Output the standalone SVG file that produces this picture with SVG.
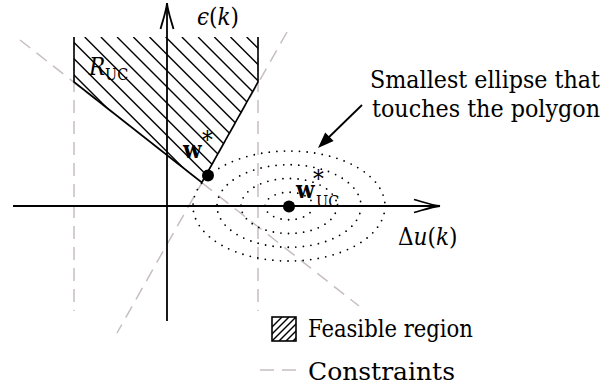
<svg xmlns="http://www.w3.org/2000/svg" width="614" height="385" viewBox="0 0 614 385">
<style>
text{font-family:'DejaVu Serif Condensed','DejaVu Serif',serif;font-stretch:condensed}
.t{font-size:24px;fill:#000}
.i{font-style:italic}
.b{font-weight:bold}
.s{font-size:16px}
.cons{stroke:#c8bebe;stroke-width:1.5;stroke-dasharray:13 8;fill:none}
.ax{stroke:#000;stroke-width:1.8;fill:none}
.hatch{stroke:#000;stroke-width:1.4}
.ell{fill:none;stroke:#000;stroke-width:1.8;stroke-linecap:round;stroke-dasharray:0 7.6}
</style>
<defs>
<clipPath id="polyclip"><polygon points="74,37 258,37 258,82 201.8,182.5 74,82"/></clipPath>
<clipPath id="boxclip"><rect x="272" y="317" width="24" height="24"/></clipPath>
</defs>

<g id="constraints">
<line class="cons" x1="74" y1="37" x2="74" y2="311"/>
<line class="cons" x1="258" y1="37" x2="258" y2="311"/>
<line class="cons" x1="20" y1="40" x2="359" y2="306"/>
<line class="cons" x1="287" y1="32" x2="117" y2="333"/>
</g>

<g id="feasible-region">
<g clip-path="url(#polyclip)" class="hatch">
<line x1="36.1" y1="37" x2="196.1" y2="197"/>
<line x1="52.3" y1="37" x2="212.3" y2="197"/>
<line x1="68.5" y1="37" x2="228.5" y2="197"/>
<line x1="84.7" y1="37" x2="244.7" y2="197"/>
<line x1="100.9" y1="37" x2="260.9" y2="197"/>
<line x1="117.1" y1="37" x2="277.1" y2="197"/>
<line x1="133.3" y1="37" x2="293.3" y2="197"/>
<line x1="149.5" y1="37" x2="309.5" y2="197"/>
<line x1="165.7" y1="37" x2="325.7" y2="197"/>
<line x1="181.9" y1="37" x2="341.9" y2="197"/>
<line x1="198.1" y1="37" x2="358.1" y2="197"/>
<line x1="214.3" y1="37" x2="374.3" y2="197"/>
<line x1="230.5" y1="37" x2="390.5" y2="197"/>
<line x1="246.7" y1="37" x2="406.7" y2="197"/>
</g>
<path d="M74,37 L74,82 L201.8,182.5 L258,82 L258,37" fill="none" stroke="#000" stroke-width="1.6" stroke-linejoin="miter"/>
<text class="t i" x="89" y="75">R<tspan class="s" font-style="normal" x="105" y="80">UC</tspan></text>
</g>

<g id="axes">
<line class="ax" x1="167" y1="321" x2="167" y2="3"/>
<path class="ax" d="M160.5,29 C163,20 166.5,10 167,3 C167.5,10 171,20 173.5,29"/>
<line class="ax" x1="13" y1="206" x2="440" y2="206"/>
<path class="ax" d="M414,199.5 C423,202 433,205.5 440,206 C433,206.5 423,210 414,212.5"/>
<text class="t" x="197" y="25"><tspan class="i">ϵ</tspan>(<tspan class="i">k</tspan>)</text>
<text class="t" x="398" y="245">Δ<tspan class="i">u</tspan>(<tspan class="i">k</tspan>)</text>
</g>

<g id="ellipses">
<ellipse class="ell" cx="289" cy="206" rx="24" ry="13.75"/>
<ellipse class="ell" cx="289" cy="206" rx="48" ry="27.5"/>
<ellipse class="ell" cx="289" cy="206" rx="72" ry="41.25"/>
<ellipse class="ell" cx="289" cy="206" rx="96" ry="55"/>
</g>

<g id="w-star">
<circle cx="208" cy="175.6" r="6" fill="#000"/>
<text class="t b" x="183" y="158">w</text>
<text class="t" x="202" y="148" font-size="18">*</text>
</g>

<g id="w-uc">
<circle cx="289" cy="206.5" r="6" fill="#000"/>
<text class="t b" x="296" y="198">w</text>
<text class="t" x="313" y="187" font-size="18">*</text>
<text class="t s" x="316" y="207">UC</text>
</g>

<g id="annotation">
<text class="t" x="370" y="88" font-size="23" textLength="230" lengthAdjust="spacingAndGlyphs">Smallest ellipse that</text>
<text class="t" x="372" y="117" font-size="23" textLength="228" lengthAdjust="spacingAndGlyphs">touches the polygon</text>
<line x1="362" y1="105" x2="326" y2="140" stroke="#000" stroke-width="1.8"/>
<polygon points="318,148 325.2,132.5 333.6,141.1" fill="#000"/>
</g>

<g id="legend">
<g clip-path="url(#boxclip)" class="hatch">
<line x1="258" y1="341" x2="282" y2="317"/>
<line x1="265" y1="341" x2="289" y2="317"/>
<line x1="272" y1="341" x2="296" y2="317"/>
<line x1="279" y1="341" x2="303" y2="317"/>
<line x1="286" y1="341" x2="310" y2="317"/>
<line x1="293" y1="341" x2="317" y2="317"/>
</g>
<rect x="272" y="317" width="24" height="24" fill="none" stroke="#000" stroke-width="1.6"/>
<text class="t" x="308" y="337" textLength="165" lengthAdjust="spacingAndGlyphs">Feasible region</text>
<line class="cons" x1="260" y1="370" x2="297" y2="370" style="stroke-dasharray:14 8"/>
<text class="t" x="308" y="380" textLength="147" lengthAdjust="spacingAndGlyphs">Constraints</text>
</g>
</svg>
